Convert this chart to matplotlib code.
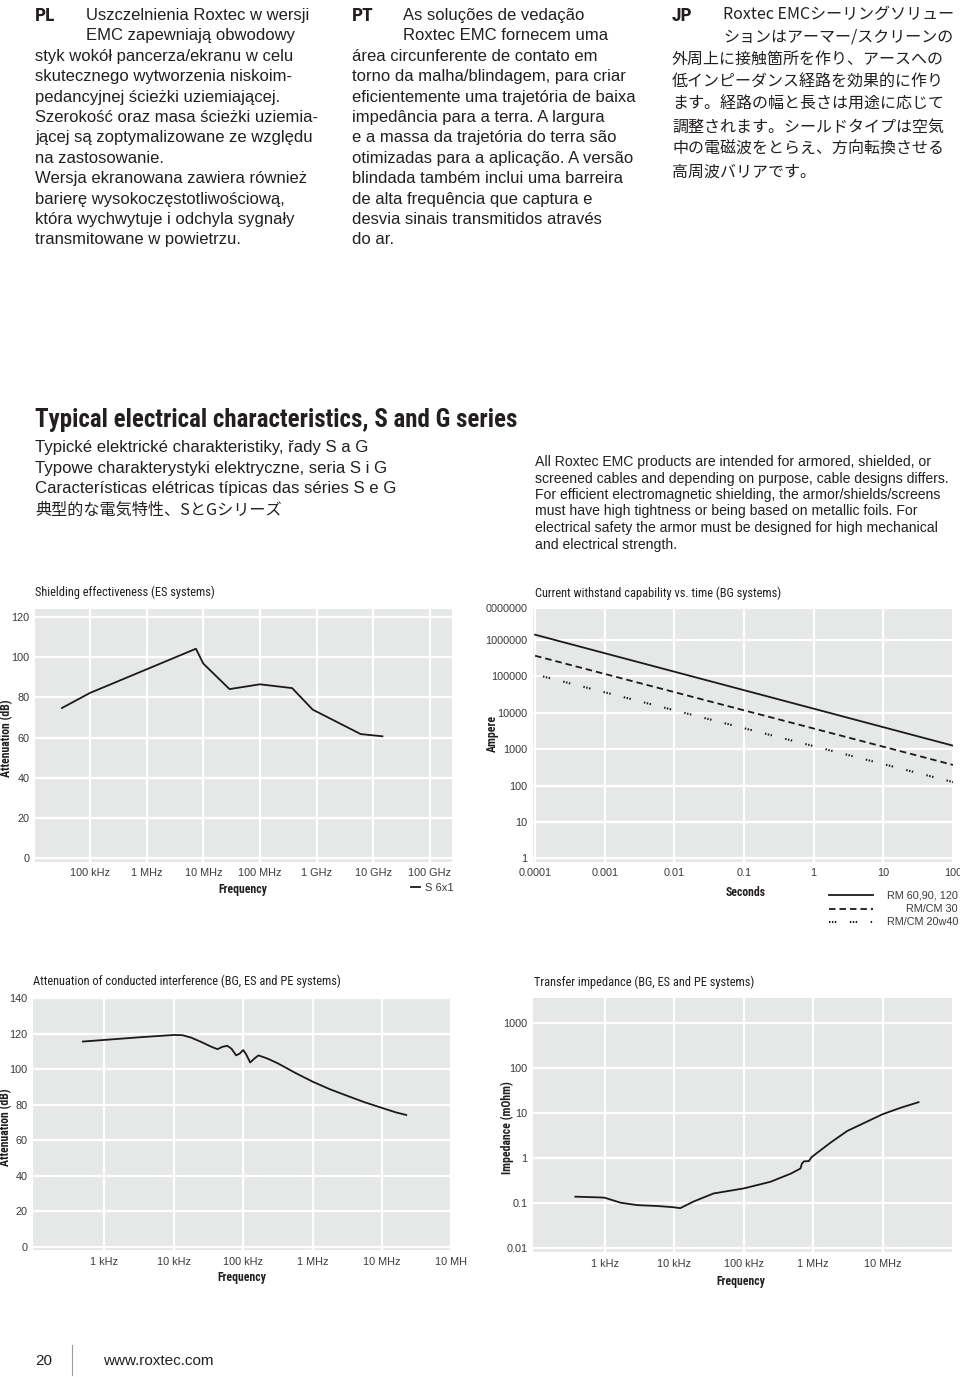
import matplotlib
matplotlib.use('Agg')
import matplotlib.pyplot as plt
from matplotlib import font_manager as fm
from matplotlib.lines import Line2D
from matplotlib.ticker import NullLocator

W, H = 960, 1377

# --- chart data ---
# Shielding effectiveness (ES systems)
se_freq = [3.2e4, 1e5, 7.4e6, 1e7, 2.9e7, 1e8, 3.7e8, 8.5e8, 6e9, 1.45e10]
se_att = [74.7, 82.2, 104.2, 96.8, 84.1, 86.5, 84.6, 73.9, 61.7, 60.6]
se_ticks = [1e5, 1e6, 1e7, 1e8, 1e9, 1e10, 1e11]
se_labels = ['100 kHz', '1 MHz', '10 MHz', '100 MHz', '1 GHz', '10 GHz', '100 GHz']
att_ticks = [0, 20, 40, 60, 80, 100, 120]

# Current withstand capability vs. time (BG systems)
cw_time = [1e-4, 100]
cw_rm60 = [1.4e6, 1250]
cw_rm30 = [3.7e5, 370]
cw_time20 = [1.3e-4, 100]
cw_rm20 = [1.0e5, 125]
cw_series = ['RM 60,90, 120', 'RM/CM 30', 'RM/CM 20w40']
cw_xticks = [1e-4, 1e-3, 1e-2, 1e-1, 1, 10, 100]
cw_xlabels = ['0.0001', '0.001', '0.01', '0.1', '1', '10', '100']
cw_yticks = [1, 10, 100, 1e3, 1e4, 1e5, 1e6]
cw_ylabels = ['1', '10', '100', '1000', '10000', '100000', '1000000', '0000000']

# Attenuation of conducted interference (BG, ES and PE systems)
ci_freq = [490, 1e3, 3.2e3, 1e4, 1.32e4, 1.78e4, 2.5e4, 3.55e4, 4.27e4, 5.0e4,
           5.9e4, 6.8e4, 7.9e4, 8.9e4, 1e5, 1.1e5, 1.26e5, 1.45e5, 1.66e5, 2.24e5,
           3.16e5, 5.6e5, 1e6, 1.78e6, 3.16e6, 5.6e6, 1e7, 1.58e7, 2.24e7]
ci_att = [115.6, 116.5, 118.0, 119.3, 119.2, 117.8, 115.3, 112.5, 111.3, 112.6,
          113.2, 111.5, 107.8, 108.8, 110.8, 108.5, 103.8, 106.0, 107.8, 106.0,
          103.3, 98.0, 93.0, 88.7, 85.0, 81.4, 78.2, 75.7, 74.2]
ci_ticks = [1e3, 1e4, 1e5, 1e6, 1e7, 1e8]
ci_labels = ['1 kHz', '10 kHz', '100 kHz', '1 MHz', '10 MHz', '10 MH']
ci_yticks = [0, 20, 40, 60, 80, 100, 120, 140]

# Transfer impedance (BG, ES and PE systems)
ti_freq = [380, 830, 1e3, 1.7e3, 2.95e3, 5.75e3, 9.55e3, 1.23e4, 1.9e4, 3.7e4,
           1e5, 2.45e5, 4.8e5, 6.6e5, 6.9e5, 7.4e5, 8.7e5, 9.5e5, 1.78e6, 3.1e6,
           1e7, 1.8e7, 3.3e7]
ti_imp = [0.14, 0.135, 0.133, 0.103, 0.091, 0.087, 0.082, 0.078, 0.109, 0.165,
          0.213, 0.30, 0.455, 0.59, 0.75, 0.85, 0.86, 1.05, 2.2, 4.0,
          9.4, 13, 17.4]
ti_xticks = [1e3, 1e4, 1e5, 1e6, 1e7]
ti_xlabels = ['1 kHz', '10 kHz', '100 kHz', '1 MHz', '10 MHz']
ti_yticks = [0.01, 0.1, 1, 10, 100, 1000]
ti_ylabels = ['0.01', '0.1', '1', '10', '100', '1000']

# --- fonts ---
plt.rcParams['font.family'] = ['Liberation Sans', 'DejaVu Sans']
names = {f.name for f in fm.fontManager.ttflist}
if 'Liberation Sans Narrow' in names:
    COND = dict(family='Liberation Sans Narrow')
elif 'Roboto Condensed' in names:
    COND = dict(family='Roboto Condensed')
elif any(f.name == 'DejaVu Sans' and f.stretch == 'condensed' for f in fm.fontManager.ttflist):
    COND = dict(family='DejaVu Sans', fontstretch='condensed')
else:
    COND = dict(family='Liberation Sans')
JPF = ['Noto Sans CJK JP', 'DejaVu Sans']

INK = '#231f20'
TICK = '#3a3a3a'
PANEL = '#e6e7e7'
LINE = '#1a1a1a'

fig = plt.figure(figsize=(9.6, 13.77), dpi=100)


def fx(x):
    return x / W


def fy(y):
    return 1 - y / H


def text(x, y, s, **kw):
    kw.setdefault('color', INK)
    fig.text(fx(x), fy(y), s, **kw)


def panel(l, t, r, b):
    ax = fig.add_axes([fx(l), fy(b), (r - l) / W, (b - t) / H])
    ax.set_facecolor(PANEL)
    for sp in ax.spines.values():
        sp.set_visible(False)
    ax.grid(True, color='white', lw=1.6)
    ax.set_axisbelow(True)
    ax.tick_params(length=0, labelsize=7.8, labelcolor=TICK, pad=4)
    return ax


# --- top paragraphs ---
pl_lines = ["Uszczelnienia Roxtec w wersji", "EMC zapewniają obwodowy",
            "styk wokół pancerza/ekranu w celu", "skutecznego wytworzenia niskoim-",
            "pedancyjnej ścieżki uziemiającej.", "Szerokość oraz masa ścieżki uziemia-",
            "jącej są zoptymalizowane ze względu", "na zastosowanie.",
            "Wersja ekranowana zawiera również", "barierę wysokoczęstotliwościową,",
            "która wychwytuje i odchyla sygnały", "transmitowane w powietrzu."]
pt_lines = ["As soluções de vedação", "Roxtec EMC fornecem uma",
            "área circunferente de contato em", "torno da malha/blindagem, para criar",
            "eficientemente uma trajetória de baixa", "impedância para a terra. A largura",
            "e a massa da trajetória do terra são", "otimizadas para a aplicação. A versão",
            "blindada também inclui uma barreira", "de alta frequência que captura e",
            "desvia sinais transmitidos através", "do ar."]
jp_lines = ["Roxtec EMCシーリングソリュー", "ションはアーマー/スクリーンの",
            "外周上に接触箇所を作り、アースへの", "低インピーダンス経路を効果的に作り",
            "ます。経路の幅と長さは用途に応じて", "調整されます。シールドタイプは空気",
            "中の電磁波をとらえ、方向転換させる", "高周波バリアです。"]

for code, x0, lines in [('PL', 35, pl_lines), ('PT', 352, pt_lines)]:
    text(x0, 21, code, fontsize=14, fontweight='bold', **COND)
    for i, s in enumerate(lines):
        text(x0 + 51 if i < 2 else x0, 20 + 20.4 * i, s, fontsize=12)
text(672, 21, 'JP', fontsize=14, fontweight='bold', **COND)
for i, s in enumerate(jp_lines):
    text(723 if i < 2 else 672, 19 + 22.5 * i, s, fontsize=11.5, family=JPF)

# --- section heading ---
text(35, 427, 'Typical electrical characteristics, S and G series',
     fontsize=18, fontweight='bold', **COND)
subs = ["Typické elektrické charakteristiky, řady S a G",
        "Typowe charakterystyki elektryczne, seria S i G",
        "Características elétricas típicas das séries S e G"]
for i, s in enumerate(subs):
    text(35, 452 + 20.5 * i, s, fontsize=12.1)
text(35, 515, '典型的な電気特性、SとGシリーズ', fontsize=11.6, family=JPF)

para = ["All Roxtec EMC products are intended for armored, shielded, or",
        "screened cables and depending on purpose, cable designs differs.",
        "For efficient electromagnetic shielding, the armor/shields/screens",
        "must have high tightness or being based on metallic foils. For",
        "electrical safety the armor must be designed for high mechanical",
        "and electrical strength."]
for i, s in enumerate(para):
    text(535, 466 + 16.5 * i, s, fontsize=10.1)

# --- chart 1: shielding effectiveness ---
ax1 = panel(35, 609, 452, 862)
ax1.set_xscale('log')
ax1.plot(se_freq, se_att, color=LINE, lw=1.3, label='S 6x1')
ax1.set_xlim(1.07e4, 2.45e11)
ax1.set_ylim(-2, 124)
ax1.set_xticks(se_ticks, se_labels)
ax1.set_yticks(att_ticks)
ax1.xaxis.set_minor_locator(NullLocator())
ax1.legend(loc='upper left', bbox_to_anchor=(fx(411), fy(883)), bbox_transform=fig.transFigure,
           frameon=False, handlelength=0.8, handletextpad=0.45, borderpad=0, borderaxespad=0,
           fontsize=8, labelcolor=TICK)
text(35, 592, 'Shielding effectiveness (ES systems)', fontsize=8.9, va='center', **COND)
text(243, 889, 'Frequency', fontsize=8.5, fontweight='bold', ha='center', va='center', **COND)
text(7, 738, 'Attenuation (dB)', fontsize=8.5, fontweight='bold', ha='center', va='center',
     rotation=90, **COND)

# --- chart 2: current withstand ---
ax2 = panel(533, 608, 953, 862)
ax2.set_xscale('log')
ax2.set_yscale('log')
cw_styles = [dict(lw=1.3, linestyle='-'),
             dict(lw=1.3, dashes=(3.6, 2.2)),
             dict(lw=1.5, dashes=(0.7, 0.7, 0.7, 0.7, 0.7, 6.5))]
for (t, a), st in zip([(cw_time, cw_rm60), (cw_time, cw_rm30), (cw_time20, cw_rm20)], cw_styles):
    ax2.plot(t, a, color=LINE, **st)
ax2.set_xlim(10 ** -4.03, 100)
ax2.set_ylim(10 ** -0.1, 10 ** 6.88)
ax2.set_xticks(cw_xticks, cw_xlabels)
ax2.set_yticks(cw_yticks + [ax2.get_ylim()[1]], cw_ylabels)
ax2.xaxis.set_minor_locator(NullLocator())
ax2.yaxis.set_minor_locator(NullLocator())
# legend: keys on the left, labels flush right
for i, (lab, st) in enumerate(zip(cw_series, cw_styles)):
    yr = 895 + 13.5 * i
    fig.add_artist(Line2D([fx(829), fx(873)], [fy(yr), fy(yr)], color=LINE, **st))
    text(958, yr, lab, fontsize=7.8, ha='right', va='center', color=TICK)
text(535, 593, 'Current withstand capability vs. time (BG systems)', fontsize=8.9,
     va='center', **COND)
text(746, 892, 'Seconds', fontsize=8.5, fontweight='bold', ha='center', va='center', **COND)
text(492, 733, 'Ampere', fontsize=8.5, fontweight='bold', ha='center', va='center',
     rotation=90, **COND)

# --- chart 3: conducted interference ---
ax3 = panel(33, 997, 452, 1250)
ax3.set_xscale('log')
ax3.plot(ci_freq, ci_att, color=LINE, lw=1.3)
ax3.set_xlim(10 ** 1.97, 10 ** 8.01)
ax3.set_ylim(-1.9, 140.7)
ax3.set_xticks(ci_ticks, ci_labels)
ax3.set_yticks(ci_yticks)
ax3.xaxis.set_minor_locator(NullLocator())
ax3.tick_params(axis='x', pad=5)
text(33, 981, 'Attenuation of conducted interference (BG, ES and PE systems)', fontsize=8.9,
     va='center', **COND)
text(242, 1278, 'Frequency', fontsize=8.5, fontweight='bold', ha='center', va='center', **COND)
text(6, 1127, 'Attenuation (dB)', fontsize=8.5, fontweight='bold', ha='center', va='center',
     rotation=90, **COND)

# --- chart 4: transfer impedance ---
ax4 = panel(533, 998, 952, 1252)
ax4.set_xscale('log')
ax4.set_yscale('log')
ax4.plot(ti_freq, ti_imp, color=LINE, lw=1.3)
ax4.set_xlim(10 ** 1.97, 10 ** 8.0)
ax4.set_ylim(10 ** -2.08, 10 ** 3.55)
ax4.set_xticks(ti_xticks, ti_xlabels)
ax4.set_yticks(ti_yticks, ti_ylabels)
ax4.xaxis.set_minor_locator(NullLocator())
ax4.yaxis.set_minor_locator(NullLocator())
ax4.tick_params(axis='x', pad=5)
text(534, 982, 'Transfer impedance (BG, ES and PE systems)', fontsize=8.9, va='center', **COND)
text(741, 1281, 'Frequency', fontsize=8.5, fontweight='bold', ha='center', va='center', **COND)
text(507, 1128, 'Impedance (mOhm)', fontsize=8.5, fontweight='bold', ha='center', va='center',
     rotation=90, **COND)

# --- footer ---
text(35, 1365, '20', fontsize=11)
fig.add_artist(Line2D([fx(72), fx(72)], [fy(1345), fy(1375)], color='#9a9a9a', lw=0.8))
text(103, 1365, 'www.roxtec.com', fontsize=11)

fig.savefig('out.png', dpi=100)
plt.close(fig)
